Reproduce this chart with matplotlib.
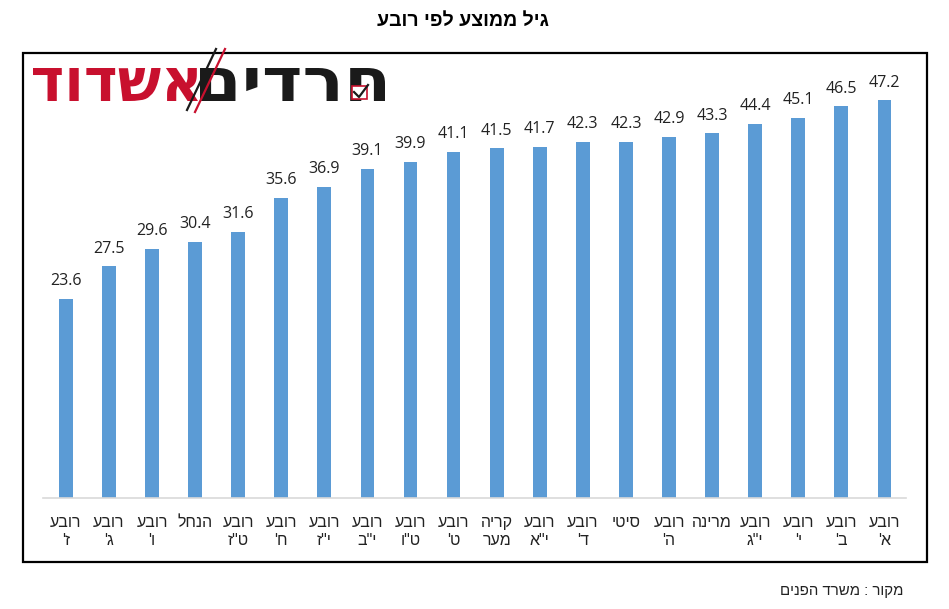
import matplotlib
matplotlib.use("Agg")
import matplotlib.pyplot as plt
from matplotlib.patches import Rectangle, PathPatch
from matplotlib.textpath import TextPath
from matplotlib.font_manager import FontProperties
from matplotlib.transforms import Affine2D
from matplotlib.lines import Line2D

# data, left to right as in the chart (Hebrew kept in logical order)
districts = ["רובע\nז'", "רובע\nג'", "רובע\nו'", "הנחל", "רובע\nט\"ז",
             "רובע\nח'", "רובע\nי\"ז", "רובע\nי\"ב", "רובע\nט\"ו", "רובע\nט'",
             "קריה\nמער", "רובע\nי\"א", "רובע\nד'", "סיטי", "רובע\nה'",
             "מרינה", "רובע\nי\"ג", "רובע\nי'", "רובע\nב'", "רובע\nא'"]
avg_age = [23.6, 27.5, 29.6, 30.4, 31.6, 35.6, 36.9, 39.1, 39.9, 41.1,
           41.5, 41.7, 42.3, 42.3, 42.9, 43.3, 44.4, 45.1, 46.5, 47.2]

title = "גיל ממוצע לפי רובע"
source = "מקור : משרד הפנים"
logo_red = "אשדוד"
logo_black = "חרדים"

HEB = ["Liberation Sans", "DejaVu Sans"]
BAR = "#5B9BD5"
W, H = 949, 609


def rtl(s):
    # matplotlib has no bidi, so flip each line for display
    return "\n".join(line[::-1] for line in s.split("\n"))


def fx(px):
    return px / W


def fy(py):
    return 1 - py / H


fig = plt.figure(figsize=(W / 100, H / 100), dpi=100)
fig.patch.set_facecolor("white")

# outer chart frame
fig.add_artist(Rectangle((fx(23), fy(562)), fx(927) - fx(23), fy(53) - fy(562),
                         transform=fig.transFigure, fill=False,
                         edgecolor="black", linewidth=1.6))

ax = fig.add_axes([fx(43), fy(498), fx(906) - fx(43), fy(60) - fy(498)])
x = range(len(avg_age))
bars = ax.bar(x, avg_age, width=0.32, color=BAR, zorder=2)
for i, v in enumerate(avg_age):
    ax.annotate(f"{v:.1f}", (i, v), xytext=(0, 7), textcoords="offset points",
                ha="center", va="bottom", fontsize=11.5,
                family=["Open Sans", "DejaVu Sans"], color="#222222")

ax.set_xlim(-0.53, 19.5)
ax.set_ylim(0, 52)
ax.set_yticks([])
ax.set_xticks(list(x))
ax.set_xticklabels([rtl(d) for d in districts], family=HEB, fontsize=11.5,
                   linespacing=1.25, color="#222222")
ax.tick_params(axis="x", length=0, pad=12.5)
for side in ["top", "left", "right"]:
    ax.spines[side].set_visible(False)
ax.spines["bottom"].set_color("#D9D9D9")
ax.spines["bottom"].set_linewidth(1.2)
ax.set_facecolor("none")

fig.text(fx(463), fy(21), rtl(title), ha="center", va="center",
         fontsize=14, fontweight="bold", family=HEB)
fig.text(fx(903), fy(591), rtl(source), ha="right", va="center",
         fontsize=10.8, family=HEB, color="#222222")


# logo: stretch text outlines into their boxes
def logo_text(s, color, x0, x1, y0, y1):
    fp = FontProperties(family="DejaVu Sans", weight="bold")
    tp = TextPath((0, 0), rtl(s), size=1, prop=fp)
    bb = tp.get_extents()
    tr = (Affine2D().translate(-bb.x0, -bb.y0)
          .scale((fx(x1) - fx(x0)) / bb.width, (fy(y0) - fy(y1)) / bb.height)
          .translate(fx(x0), fy(y1)))
    fig.add_artist(PathPatch(tp, transform=tr + fig.transFigure,
                             facecolor=color, edgecolor="none"))


logo_text(logo_red, "#C8102E", 33, 198, 68, 101)
logo_text(logo_black, "#1A1A1A", 200, 385, 68, 101)
fig.add_artist(Line2D([fx(187), fx(216)], [fy(110), fy(49)],
                      transform=fig.transFigure, color="#1A1A1A", lw=1.6))
fig.add_artist(Line2D([fx(195), fx(225)], [fy(112), fy(49)],
                      transform=fig.transFigure, color="#C8102E", lw=1.6))
fig.add_artist(Rectangle((fx(352), fy(99)), fx(367) - fx(352), fy(86) - fy(99),
                         transform=fig.transFigure, facecolor="white",
                         edgecolor="#C8102E", lw=1.2))
fig.add_artist(Line2D([fx(354), fx(359), fx(368)], [fy(92), fy(97), fy(85)],
                      transform=fig.transFigure, color="#1A1A1A", lw=1.6))

fig.savefig("out.png", dpi=100)
